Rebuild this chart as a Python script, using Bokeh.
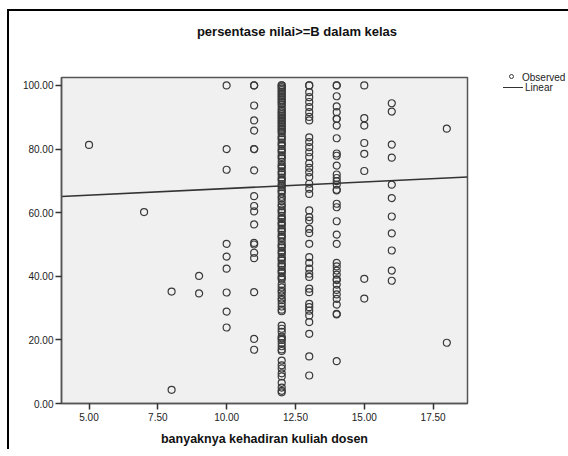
from bokeh.plotting import figure
from bokeh.layouts import row, column
from bokeh.models import Range1d, FixedTicker, NumeralTickFormatter, ColumnDataSource, Div
from bokeh.embed import file_html
from bokeh.resources import INLINE

# ---- data ----
y_at_5 = [81.3]
y_at_7 = [60.2]
y_at_8 = [35.2, 4.3]
y_at_9 = [40.1, 34.6]
y_at_10 = [100, 80.0, 73.5, 50.2, 46.2, 42.4, 34.9, 28.9, 23.9]
y_at_11 = [100, 100, 93.7, 89.0, 85.8, 80.0, 80.0, 73.3, 65.2, 62.1, 60.4, 56.3,
           50.5, 50.0, 47.4, 45.7, 35.0, 20.3, 16.9]
y_at_12 = [100, 100, 99.5, 99, 98.5, 98, 97.5, 97, 96.5, 96, 95.5, 95, 94.5, 94,
           93.3, 92.5, 92, 91.5, 91, 90.5, 90, 89.5, 89, 88.5, 88, 87.5, 87, 86.5,
           86, 85.5, 85, 84, 83.5, 83, 82, 81.5, 81, 80, 79.5, 79, 78, 77.5, 77,
           76, 75, 74.5, 74, 73, 72.5, 72, 71, 70.5, 70, 69, 68.5, 68, 67, 66.7,
           66, 65, 64.5, 63.6, 62.5, 62, 61, 60.5, 60, 59, 58.3, 58, 57, 56.5, 56,
           55, 54.5, 54, 53, 52.5, 52, 51, 50, 49.5, 49, 48, 47.5, 47, 46, 45.5,
           45, 44, 43.5, 43, 42, 41.5, 41, 40, 39.5, 39,
           37.5, 36.5, 35.5, 35, 34, 33, 32.5, 31.5, 30.5, 29.5, 29,
           24.5, 23.5, 22.5, 21, 20.5, 20, 19, 18, 17, 16.5,
           13.5, 12, 11, 9.5, 8.5,
           6.5, 5, 4, 3.5]
y_at_13 = [100, 100, 97.9, 96.3, 94.8, 93.2, 91.6, 90.1, 89.0, 83.7, 82.2, 80.6,
           79.0, 77.5, 75.5, 74.1, 72.7, 71.2, 69.1, 67.5, 65.9, 60.7, 58.6, 57.5,
           54.9, 53.6, 50.2, 46.0, 44.2, 42.4, 40.8, 39.8, 36.1, 35.0, 31.3, 30.3,
           29.2, 27.7, 25.6, 21.9, 14.8, 8.8]
y_at_14 = [100, 100, 96.6, 93.4, 91.6, 89.5, 89.5, 87.4, 83.4, 78.6, 77.9, 74.8,
           72.0, 70.9, 69.9, 68.8, 67.2, 67.0, 62.8, 61.7, 57.3, 53.1, 50.2, 44.2,
           43.1, 41.8, 40.5, 39.0, 38.8, 37.4, 35.7, 34.3, 32.9, 31.1, 28.2, 28.0,
           13.3]
y_at_15 = [100, 89.7, 87.4, 81.9, 78.5, 73.1, 39.2, 33.0]
y_at_16 = [94.4, 91.8, 81.4, 77.3, 68.8, 64.6, 58.8, 53.5, 48.1, 41.8, 38.6]
y_at_18 = [86.4, 19.1]

columns = {5: y_at_5, 7: y_at_7, 8: y_at_8, 9: y_at_9, 10: y_at_10, 11: y_at_11,
           12: y_at_12, 13: y_at_13, 14: y_at_14, 15: y_at_15, 16: y_at_16, 18: y_at_18}

# linear fit line end points
line_x = [4.0, 18.75]
line_y = [65.1, 71.2]

x_ticks = [5.0, 7.5, 10.0, 12.5, 15.0, 17.5]
y_ticks = [0, 20, 40, 60, 80, 100]

title_text = "persentase nilai&gt;=B dalam kelas"
x_label = "banyaknya kehadiran kuliah dosen"
legend_labels = ["Observed", "Linear"]

xs, ys = [], []
for k, vals in columns.items():
    for v in vals:
        xs.append(k)
        ys.append(v)
src = ColumnDataSource(dict(x=xs, y=ys))

FONT = "Liberation Sans"
DARK = "#3a3a3a"
LINE = "#333333"

TITLE_H = 30
p = figure(width=462, height=438 - TITLE_H, output_backend="svg", toolbar_location=None,
           x_range=Range1d(4.0, 18.75), y_range=Range1d(0, 102.5),
           min_border_left=52, min_border_right=4, min_border_top=66 - TITLE_H,
           min_border_bottom=46)

p.background_fill_color = "#f0f0f0"
p.border_fill_color = "white"
p.outline_line_color = "#555555"
p.outline_line_width = 1.5
p.xgrid.visible = False
p.ygrid.visible = False

p.scatter("x", "y", source=src, marker="circle", size=7, fill_color=None,
          line_color=DARK, line_width=1.2)
p.line(line_x, line_y, line_color=LINE, line_width=1.6)

for ax in (p.xaxis[0], p.yaxis[0]):
    ax.axis_line_color = "#555555"
    ax.axis_line_width = 1.5
    ax.major_tick_line_color = "#333333"
    ax.major_tick_line_width = 1.5
    ax.major_tick_in = 0
    ax.major_tick_out = 6
    ax.minor_tick_line_color = None
    ax.major_label_text_font = FONT
    ax.major_label_text_font_size = "10px"
    ax.major_label_text_color = "#222222"
    ax.formatter = NumeralTickFormatter(format="0.00")

p.xaxis.ticker = FixedTicker(ticks=x_ticks)
p.yaxis.ticker = FixedTicker(ticks=y_ticks)
p.xaxis.major_label_standoff = 3
p.yaxis.major_label_standoff = 2
p.xaxis.axis_label = x_label
p.xaxis.axis_label_text_font = FONT
p.xaxis.axis_label_text_font_size = "12.5px"
p.xaxis.axis_label_text_font_style = "bold"
p.xaxis.axis_label_text_color = "#111111"
p.xaxis.axis_label_standoff = 8

# title (HTML) above the chart
title_html = (
    f'<div style="position:relative;width:559px;height:{TITLE_H}px;">'
    f'<span style="position:absolute;left:288px;top:13px;transform:translateX(-50%);'
    f'white-space:nowrap;line-height:16px;font-family:\'{FONT}\',Arial,sans-serif;'
    f'font-size:13px;font-weight:bold;color:#111111;">{title_text}</span></div>'
)
title_div = Div(text=title_html, width=559, height=TITLE_H, margin=0)

# legend panel (HTML) to the right of the chart
legend_html = (
    f'<div style="position:relative;width:97px;height:{438 - TITLE_H}px;'
    f'font-family:\'{FONT}\',Arial,sans-serif;font-size:10px;color:#222222;white-space:nowrap;">'
    f'<div style="position:absolute;left:38px;top:33px;width:5px;height:5px;'
    f'border:1.3px solid {DARK};border-radius:50%;"></div>'
    f'<span style="position:absolute;left:51px;top:32px;line-height:10px;">{legend_labels[0]}</span>'
    f'<div style="position:absolute;left:32px;top:46px;width:20px;height:0;'
    f'border-top:1.6px solid {LINE};"></div>'
    f'<span style="position:absolute;left:54px;top:42px;line-height:10px;">{legend_labels[1]}</span>'
    f'</div>'
)
lg = Div(text=legend_html, width=97, height=438 - TITLE_H, margin=0,
         styles={"overflow": "hidden"})

layout = column(title_div, row(p, lg, spacing=0), spacing=0,
                styles={"border-top": "2px solid black", "border-left": "2px solid black",
                        "margin-left": "7px", "margin-top": "9px"})

open("out.html", "w").write(file_html(layout, INLINE))
